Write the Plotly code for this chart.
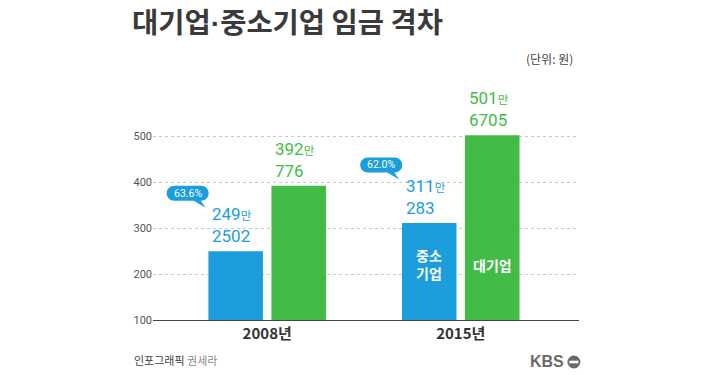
import plotly.graph_objects as go

# ---- data (만원) ----
years = ["2008년", "2015년"]
sme_wage = [249.2502, 311.0283]      # 중소기업
large_wage = [392.0776, 501.6705]    # 대기업
y_ticks = [100, 200, 300, 400, 500]

BLUE = "#1c9ddd"
GREEN = "#43bb47"
KR = "Noto Sans CJK KR"
NUM = "Roboto, Liberation Sans"

x_pos = list(range(len(years)))
bar_w = 0.2817
gap = 0.0439
off_sme = -(bar_w + gap / 2)
off_large = gap / 2

fig = go.Figure()
fig.add_trace(go.Bar(x=x_pos, y=sme_wage, base=0, width=bar_w, offset=off_sme,
                     marker=dict(color=BLUE, line=dict(width=0)), name="중소기업",
                     hoverinfo="skip"))
fig.add_trace(go.Bar(x=x_pos, y=large_wage, base=0, width=bar_w, offset=off_large,
                     marker=dict(color=GREEN, line=dict(width=0)), name="대기업",
                     hoverinfo="skip"))

annotations = []
shapes = []


def split_won(v):
    man = int(v)
    won = int(round((v - man) * 10000))
    return man, won


def value_label(xleft, v, color):
    man, won = split_won(v)
    annotations.append(dict(
        x=xleft, y=v, xref="x", yref="y", xanchor="left", yanchor="bottom", align="left",
        xshift=2, yshift=3, showarrow=False,
        text=f"{man}<span style='font-size:11.5px;font-family:{KR}'>만</span><br>{won}",
        font=dict(family=NUM, size=17, color=color)))


for i in range(len(years)):
    value_label(x_pos[i] + off_sme, sme_wage[i], BLUE)
    value_label(x_pos[i] + off_large, large_wage[i], GREEN)

    # ratio callout
    ratio = sme_wage[i] / large_wage[i] * 100
    cx = x_pos[i] + off_sme + bar_w / 2
    dx, dy = -48, 58
    w, h = 42, 15
    r = h / 2
    L, R, T, B = dx - w / 2, dx + w / 2, dy + h / 2, dy - h / 2
    k = 0.55 * r
    path = (f"M{L + r},{T} L{R - r},{T} "
            f"C{R - r + k},{T} {R},{dy + k} {R},{dy} "
            f"C{R},{dy - k} {R - r + k},{B} {R - r},{B} "
            f"L{dx + 13},{B} L{dx + 18},{B - 7} L{dx + 6},{B} "
            f"L{L + r},{B} "
            f"C{L + r - k},{B} {L},{dy - k} {L},{dy} "
            f"C{L},{dy + k} {L + r - k},{T} {L + r},{T} Z")
    shapes.append(dict(type="path", xref="x", yref="y", xsizemode="pixel", ysizemode="pixel",
                       xanchor=cx, yanchor=sme_wage[i], path=path,
                       fillcolor=BLUE, line=dict(width=0), layer="above"))
    annotations.append(dict(x=cx, y=sme_wage[i], xref="x", yref="y", xshift=dx, yshift=dy,
                            showarrow=False, text=f"{ratio:.1f}%",
                            font=dict(family=NUM, size=10.5, color="white")))

# in-bar labels (2015)
lx = x_pos[1] + off_sme + bar_w / 2
gx = x_pos[1] + off_large + bar_w / 2
annotations += [
    dict(x=lx, y=222, xref="x", yref="y", showarrow=False, text="<b>중소<br>기업</b>",
         font=dict(family=KR, size=14, color="white")),
    dict(x=gx, y=220, xref="x", yref="y", showarrow=False, text="<b>대기업</b>",
         font=dict(family=KR, size=14, color="white")),
]

# unit, footer
annotations += [
    dict(x=0.9906, y=1.139, xref="paper", yref="paper", xanchor="right", yanchor="middle",
         showarrow=False, text="(단위: 원)", font=dict(family=KR, size=12, color="#444")),
    dict(x=-0.0493, y=-0.1739, xref="paper", yref="paper", xanchor="left", yanchor="middle",
         showarrow=False,
         text="인포그래픽 <span style='color:#8a8a8a'>권세라</span>",
         font=dict(family=KR, size=11, color="#444")),
    dict(x=0.9695, y=-0.1826, xref="paper", yref="paper", xanchor="right", yanchor="middle",
         showarrow=False, text="<b>KBS</b>",
         font=dict(family="Liberation Sans", size=16, color="#6a6a6a")),
]
shapes += [
    dict(type="circle", xref="paper", yref="paper", xsizemode="pixel", ysizemode="pixel",
         xanchor=0.988, yanchor=-0.1826, x0=-6.5, x1=6.5, y0=-6.5, y1=6.5,
         fillcolor="#6a6a6a", line=dict(width=0)),
    dict(type="rect", xref="paper", yref="paper", xsizemode="pixel", ysizemode="pixel",
         xanchor=0.988, yanchor=-0.1826, x0=-4.5, x1=4.5, y0=-1.3, y1=1.3,
         fillcolor="white", line=dict(width=0)),
]

title_txt = ("<b>대기업<span style='font-family:Liberation Sans'>·</span>"
             "중소기업 임금 격차</b>")

fig.update_layout(
    width=720, height=375,
    margin=dict(l=153, r=141, t=90, b=55),
    paper_bgcolor="white", plot_bgcolor="white",
    showlegend=False, barmode="overlay",
    title=dict(text=title_txt, x=132 / 720, xanchor="left",
               y=1 - 23 / 375, yanchor="middle", xref="container", yref="container",
               font=dict(family=KR, size=28.5, color="#3a3a3a")),
    annotations=annotations, shapes=shapes,
    xaxis=dict(range=[-0.590, 1.611], tickvals=x_pos, ticktext=[f"<b>{y}</b>" for y in years],
               showgrid=False, zeroline=False, showline=True, linecolor="#444", linewidth=1,
               ticks="", tickfont=dict(family=KR, size=15, color="#333"),
               fixedrange=True),
    yaxis=dict(range=[100, 600], tickvals=y_ticks, showgrid=True, gridcolor="#c8c8c8",
               griddash="dot", gridwidth=1, zeroline=False, showline=False, ticks="",
               tickfont=dict(family=NUM, size=11, color="#555"), fixedrange=True),
)

fig.write_html("out.html", config={"displayModeBar": False},
               post_script="document.body.style.margin='0';")
